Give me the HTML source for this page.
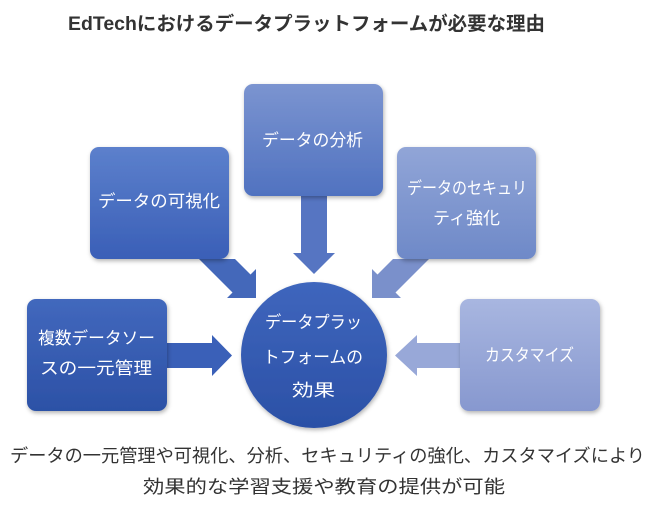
<!DOCTYPE html>
<html><head><meta charset="utf-8"><style>
html,body{margin:0;padding:0;background:#fff;width:650px;height:505px;overflow:hidden}
svg{display:block}
text{font-family:"Liberation Sans","Noto Sans CJK JP",sans-serif}
</style></head><body>
<svg width="650" height="505" viewBox="0 0 650 505" xmlns="http://www.w3.org/2000/svg">
<defs>
<linearGradient id="gTop" x1="0" y1="0" x2="0" y2="1"><stop offset="0" stop-color="#7b94d0"/><stop offset="1" stop-color="#5072c0"/></linearGradient>
<linearGradient id="gL" x1="0" y1="0" x2="0" y2="1"><stop offset="0" stop-color="#5c80cc"/><stop offset="1" stop-color="#3a5fb7"/></linearGradient>
<linearGradient id="gR" x1="0" y1="0" x2="0" y2="1"><stop offset="0" stop-color="#91a5d7"/><stop offset="1" stop-color="#6e89c8"/></linearGradient>
<linearGradient id="gBL" x1="0" y1="0" x2="0" y2="1"><stop offset="0" stop-color="#4268bd"/><stop offset="1" stop-color="#2c51a6"/></linearGradient>
<linearGradient id="gBR" x1="0" y1="0" x2="0" y2="1"><stop offset="0" stop-color="#a8b6e0"/><stop offset="1" stop-color="#8798cf"/></linearGradient>
<linearGradient id="gC" x1="0" y1="0" x2="0" y2="1"><stop offset="0" stop-color="#3f66bd"/><stop offset="1" stop-color="#2b50a6"/></linearGradient>
<filter id="sh" x="-20%" y="-20%" width="140%" height="140%"><feDropShadow dx="1" dy="2" stdDeviation="2" flood-color="#000" flood-opacity="0.3"/></filter>
</defs>
<text x="68" y="30" font-size="19" font-weight="bold" fill="#333" textLength="477" lengthAdjust="spacingAndGlyphs">EdTechにおけるデータプラットフォームが必要な理由</text>

<polygon points="301,196 327,196 327,253 335,253 314,274 293,253 301,253" fill="#5675c2"/>
<polygon points="199,259 235,259 250.5,274.5 256,269 256,298 227,298 232.5,292.5" fill="#4468ba"/>
<polygon points="429,259 393,259 377.5,274.5 372,269 372,298 401,298 395.5,292.5" fill="#7a90cb"/>
<polygon points="167,343 212,343 212,335 232,355.5 212,376 212,368 167,368" fill="#3a60b8"/>
<polygon points="460,343 417,343 417,335 395,355.5 417,376 417,368 460,368" fill="#98a8d8"/>

<rect x="244" y="84" width="139" height="112" rx="9" fill="url(#gTop)" filter="url(#sh)"/>
<rect x="90" y="147" width="139" height="112" rx="9" fill="url(#gL)" filter="url(#sh)"/>
<rect x="397" y="147" width="139" height="112" rx="9" fill="url(#gR)" filter="url(#sh)"/>
<rect x="27" y="299" width="140" height="112" rx="9" fill="url(#gBL)" filter="url(#sh)"/>
<rect x="460" y="299" width="140" height="112" rx="9" fill="url(#gBR)" filter="url(#sh)"/>
<circle cx="314" cy="355" r="73" fill="url(#gC)" filter="url(#sh)"/>

<g fill="#fff" font-size="17">
<text x="262" y="146" textLength="101" lengthAdjust="spacingAndGlyphs">データの分析</text>
<text x="98" y="207" textLength="122" lengthAdjust="spacingAndGlyphs">データの可視化</text>
<text x="407" y="194" textLength="120" lengthAdjust="spacingAndGlyphs">データのセキュリ</text>
<text x="433" y="224" textLength="67" lengthAdjust="spacingAndGlyphs">ティ強化</text>
<text x="38" y="344" textLength="117" lengthAdjust="spacingAndGlyphs">複数データソー</text>
<text x="40" y="374" textLength="112" lengthAdjust="spacingAndGlyphs">スの一元管理</text>
<text x="485" y="361" textLength="89" lengthAdjust="spacingAndGlyphs">カスタマイズ</text>
<text x="265" y="328" textLength="97" lengthAdjust="spacingAndGlyphs">データプラッ</text>
<text x="263" y="363" textLength="100" lengthAdjust="spacingAndGlyphs">トフォームの</text>
<text x="292" y="396" textLength="43" lengthAdjust="spacingAndGlyphs">効果</text>
</g>

<g fill="#333" font-size="18">
<text x="10" y="462" textLength="635" lengthAdjust="spacingAndGlyphs">データの一元管理や可視化、分析、セキュリティの強化、カスタマイズにより</text>
<text x="143" y="493" textLength="362" lengthAdjust="spacingAndGlyphs">効果的な学習支援や教育の提供が可能</text>
</g>
</svg>
</body></html>
